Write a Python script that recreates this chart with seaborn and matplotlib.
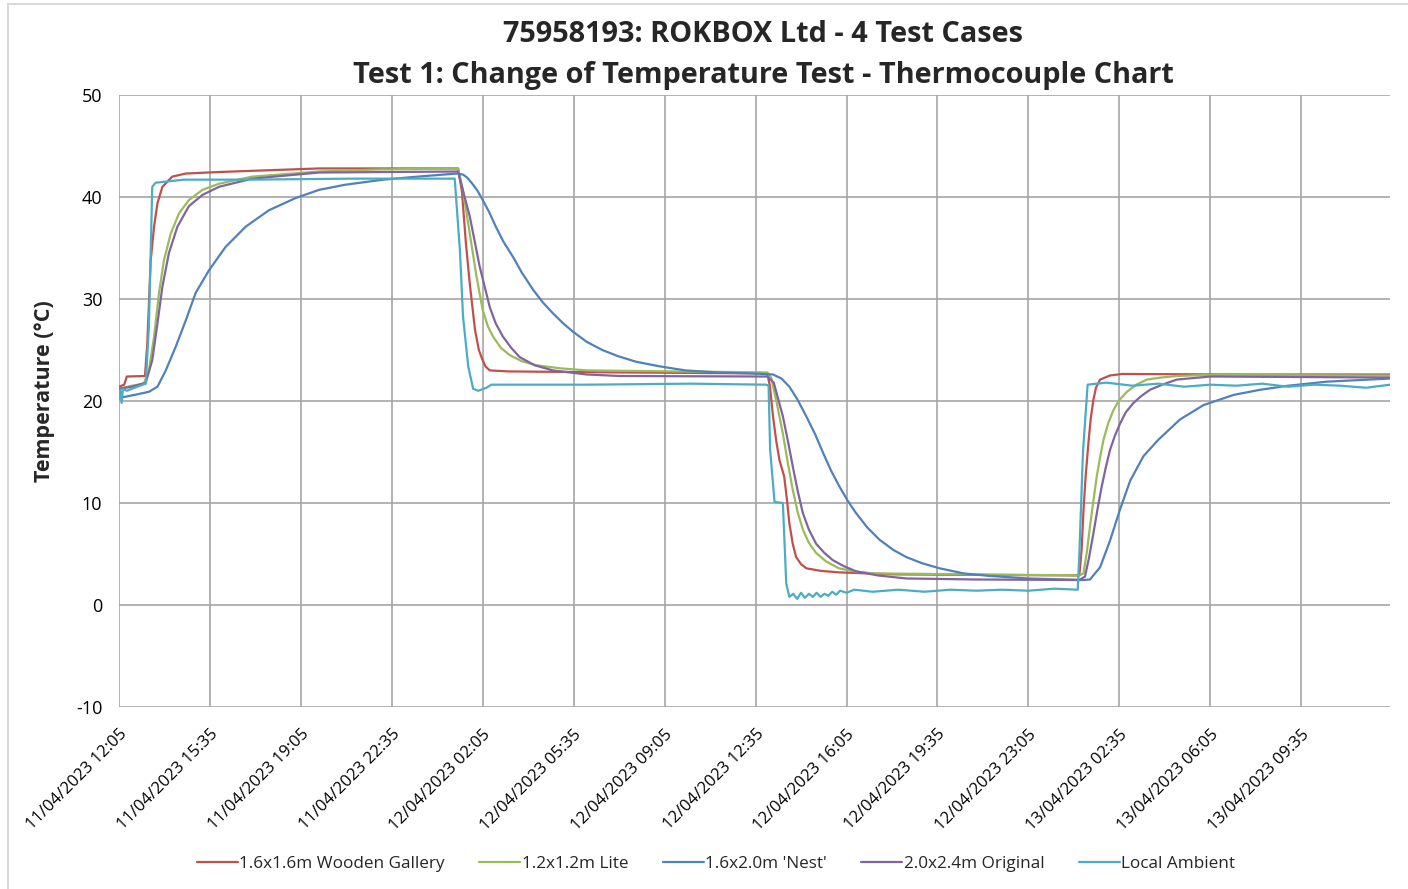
import pandas as pd
import matplotlib.pyplot as plt
import matplotlib.dates as mdates
from matplotlib.lines import Line2D
import seaborn as sns

sns.set_theme(style="whitegrid")
plt.rcParams['font.family'] = ['Open Sans', 'DejaVu Sans']
plt.rcParams['axes.unicode_minus'] = False

inicio = pd.Timestamp('2023-04-11 12:05')
fin = pd.Timestamp('2023-04-13 13:00')

# Horas desde el inicio y temperaturas
red_h = [0, 0.2, 0.3, 1.0, 1.09, 1.22, 1.35, 1.48, 1.67, 2.05, 2.57, 3.85, 7.7, 13.05,
         13.2, 13.35, 13.5, 13.7, 13.85, 13.95, 14.1, 14.27, 15.0, 19.27,
         24.95, 25.05, 25.17, 25.3, 25.42, 25.6, 25.7, 25.8, 25.93, 26.06, 26.25, 26.45,
         27.0, 27.7, 29.9, 36.96, 37.05, 37.12, 37.2, 37.31, 37.4, 37.5, 37.6, 37.76,
         38.14, 38.6, 43.0, 48.92]
red_t = [21.4, 21.6, 22.4, 22.45, 25.7, 33.8, 37.1, 39.4, 41.0, 42.0, 42.3, 42.45, 42.8, 42.8,
         40.5, 35.5, 31.5, 27.0, 25.0, 24.3, 23.4, 23.0, 22.9, 22.8,
         22.7, 21.5, 18.5, 16.0, 14.2, 12.6, 10.5, 8.0, 6.0, 4.7, 4.0, 3.6,
         3.35, 3.2, 3.0, 2.9, 5.5, 9.3, 12.5, 15.9, 18.3, 20.1, 21.3, 22.1,
         22.5, 22.65, 22.6, 22.6]

green_h = [0, 0.5, 0.96, 1.15, 1.35, 1.54, 1.73, 1.99, 2.31, 2.69, 3.21, 3.85, 5.13, 7.7,
           10.0, 13.05, 13.25, 13.5, 13.76, 14.0, 14.2, 14.4, 14.7, 15.04, 15.5, 16.07,
           17.0, 18.0, 24.95, 25.1, 25.3, 25.55, 25.75, 25.93, 26.12, 26.32, 26.55, 26.83,
           27.2, 27.7, 28.3, 29.0, 33.0, 36.96, 37.12, 37.25, 37.37, 37.5, 37.63, 37.76,
           37.89, 38.07, 38.27, 38.5, 38.79, 39.15, 39.56, 40.1, 40.71, 41.8, 48.92]
green_t = [21.2, 21.5, 21.7, 23.0, 26.3, 30.6, 33.8, 36.4, 38.4, 39.7, 40.7, 41.3, 42.0, 42.5,
           42.7, 42.8, 40.5, 36.4, 32.2, 28.9, 27.3, 26.3, 25.2, 24.5, 23.9, 23.5,
           23.2, 23.0, 22.8, 22.3, 20.0, 16.8, 13.8, 11.3, 9.1, 7.4, 6.1, 5.1,
           4.3, 3.6, 3.3, 3.1, 3.0, 2.9, 3.1, 5.2, 7.7, 10.2, 12.6, 14.5,
           16.2, 17.8, 19.1, 20.1, 20.9, 21.6, 22.1, 22.3, 22.45, 22.55, 22.5]

blue_h = [0, 0.6, 1.15, 1.48, 1.8, 2.18, 2.57, 2.95, 3.46, 4.1, 4.88, 5.77, 6.8, 7.7,
          8.7, 10.17, 11.5, 13.0, 13.24, 13.4, 13.6, 13.8, 14.0, 14.25, 14.5, 14.8,
          15.17, 15.5, 15.94, 16.3, 16.7, 17.1, 17.47, 18.0, 18.6, 19.2, 19.9, 20.8,
          21.8, 23.0, 24.4, 25.17, 25.5, 25.8, 26.1, 26.45, 26.8, 27.1, 27.4, 27.73,
          28.05, 28.37, 28.8, 29.27, 29.8, 30.3, 30.9, 31.58, 32.5, 33.5, 35.0, 37.1,
          37.37, 37.76, 38.14, 38.53, 38.92, 39.43, 40.0, 40.84, 41.74, 42.9, 43.92,
          45.0, 46.5, 48.92]
blue_t = [20.3, 20.6, 20.9, 21.4, 23.0, 25.3, 27.9, 30.6, 32.8, 35.1, 37.1, 38.7, 39.9, 40.7,
          41.2, 41.7, 42.0, 42.3, 42.2, 41.9, 41.3, 40.6, 39.7, 38.5, 37.1, 35.6,
          34.1, 32.6, 30.9, 29.7, 28.6, 27.6, 26.8, 25.8, 25.0, 24.4, 23.85, 23.4,
          23.0, 22.8, 22.7, 22.6, 22.2, 21.4, 20.2, 18.5, 16.7, 14.9, 13.2, 11.6,
          10.2, 9.0, 7.6, 6.4, 5.4, 4.7, 4.1, 3.6, 3.1, 2.85, 2.6, 2.45,
          2.5, 3.7, 6.3, 9.4, 12.2, 14.6, 16.2, 18.2, 19.6, 20.6, 21.1,
          21.5, 21.9, 22.2]

purple_h = [0, 0.5, 1.03, 1.28, 1.48, 1.67, 1.92, 2.25, 2.69, 3.21, 3.85, 5.13, 7.7, 13.05,
            13.25, 13.5, 13.88, 14.27, 14.5, 14.78, 15.1, 15.42, 16.0, 16.7, 18.0, 19.27,
            24.95, 25.2, 25.55, 25.75, 25.93, 26.12, 26.32, 26.55, 26.83, 27.15, 27.47,
            27.9, 28.37, 29.2, 30.3, 33.0, 36.96, 37.18, 37.33, 37.5, 37.66, 37.82, 37.98,
            38.14, 38.33, 38.53, 38.75, 39.04, 39.35, 39.68, 40.15, 40.71, 42.0, 48.92]
purple_t = [21.2, 21.4, 21.8, 24.0, 27.6, 31.2, 34.5, 37.1, 39.1, 40.2, 41.0, 41.8, 42.4, 42.5,
            40.5, 38.1, 33.2, 29.2, 27.6, 26.3, 25.2, 24.3, 23.5, 23.0, 22.6, 22.45,
            22.4, 21.8, 18.5, 16.0, 13.6, 11.2, 9.0, 7.4, 6.0, 5.1, 4.4,
            3.8, 3.3, 2.9, 2.6, 2.5, 2.45, 2.8, 4.6, 7.0, 9.4, 11.6, 13.5,
            15.2, 16.6, 17.8, 18.9, 19.8, 20.5, 21.1, 21.6, 22.1, 22.4, 22.3]

cyan_h = [0, 0.05, 0.1, 0.15, 0.3, 0.6, 1.03, 1.15, 1.28, 1.41, 2.5, 5.0, 9.0, 12.92,
          13.12, 13.24, 13.44, 13.63, 13.82, 14.14, 14.33, 18.0, 22.0, 24.9, 25.0,
          25.06, 25.17, 25.23, 25.55, 25.68, 25.8, 25.95, 26.1, 26.25, 26.4, 26.55,
          26.7, 26.85, 27.0, 27.15, 27.3, 27.45, 27.6, 27.75, 28.0, 28.3, 29.0, 30.0,
          31.0, 32.0, 33.0, 34.0, 35.0, 36.0, 36.9, 36.96, 37.1, 37.28, 38.0, 39.0,
          40.0, 41.0, 42.0, 43.0, 44.0, 45.0, 46.0, 47.0, 48.0, 48.92]
cyan_t = [20.2, 21.0, 19.8, 21.2, 21.0, 21.3, 21.7, 27.3, 41.0, 41.4, 41.7, 41.7, 41.8, 41.8,
          34.8, 28.3, 23.4, 21.2, 21.0, 21.3, 21.6, 21.6, 21.7, 21.6, 21.5,
          15.2, 11.9, 10.1, 10.0, 2.1, 0.8, 1.1, 0.6, 1.2, 0.7, 1.1,
          0.8, 1.2, 0.8, 1.1, 0.9, 1.3, 1.0, 1.4, 1.2, 1.5, 1.3, 1.5,
          1.3, 1.5, 1.4, 1.5, 1.4, 1.6, 1.5, 5.0, 15.0, 21.6, 21.8, 21.5,
          21.7, 21.4, 21.6, 21.5, 21.7, 21.4, 21.6, 21.5, 21.3, 21.6]

series = [
    ("1.6x1.6m Wooden Gallery", red_h, red_t, '#C0504D'),
    ("1.2x1.2m Lite", green_h, green_t, '#9BBB59'),
    ("1.6x2.0m 'Nest'", blue_h, blue_t, '#4F81BD'),
    ("2.0x2.4m Original", purple_h, purple_t, '#8064A2'),
    ("Local Ambient", cyan_h, cyan_t, '#4BACC6'),
]

fig = plt.figure(figsize=(14.08, 8.89), dpi=100)
ax = fig.add_axes([119 / 1408, 1 - 707 / 889, (1390 - 119) / 1408, (707 - 95) / 889])

for nombre, horas, temps, color in series:
    df = pd.DataFrame({'Tiempo': inicio + pd.to_timedelta(horas, unit='h'), 'Temp': temps})
    sns.lineplot(data=df, x='Tiempo', y='Temp', color=color, linewidth=1.6,
                 label=nombre, ax=ax, estimator=None, sort=False)

ax.set_xlim(inicio, fin)
ax.set_ylim(-10, 50)
ax.set_yticks(range(-10, 51, 10))
ax.set_xticks(pd.date_range(inicio, periods=14, freq='210min'))
ax.xaxis.set_major_formatter(mdates.DateFormatter('%d/%m/%Y %H:%M'))
plt.setp(ax.get_xticklabels(), rotation=45, ha='right', va='top', rotation_mode='anchor')
ax.tick_params(axis='y', labelsize=13, pad=6, colors='black')
ax.tick_params(axis='x', labelsize=12, pad=8, colors='black')
ax.grid(True, color='#A6A6A6', linewidth=1.2)
for s in ax.spines.values():
    s.set_visible(False)
ax.set_xlabel('')
ax.set_ylabel('')

fig.text(45 / 1408, 1 - 391 / 889, 'Temperature (°C)', rotation=90, fontsize=15.5,
         fontweight='bold', ha='center', va='center')
fig.text(763 / 1408, 1 - 35 / 889, '75958193: ROKBOX Ltd - 4 Test Cases', fontsize=20.8,
         fontweight='bold', ha='center', va='center')
fig.text(763 / 1408, 1 - 75 / 889, 'Test 1: Change of Temperature Test - Thermocouple Chart',
         fontsize=20.8, fontweight='bold', ha='center', va='center')

ax.legend_.remove()
fig.legend(*ax.get_legend_handles_labels(), loc='center', bbox_to_anchor=(716 / 1408, 1 - 864 / 889),
           ncol=5, frameon=False, fontsize=12.3, handlelength=2.4, columnspacing=2.0, handletextpad=0.1)

# borde del grafico
fig.add_artist(Line2D([8 / 1408, 1], [1 - 4 / 889, 1 - 4 / 889], color='#D9D9D9', linewidth=1.5))
fig.add_artist(Line2D([8 / 1408, 8 / 1408], [0, 1 - 4 / 889], color='#D9D9D9', linewidth=1.5))

fig.savefig('out.png', dpi=100)
